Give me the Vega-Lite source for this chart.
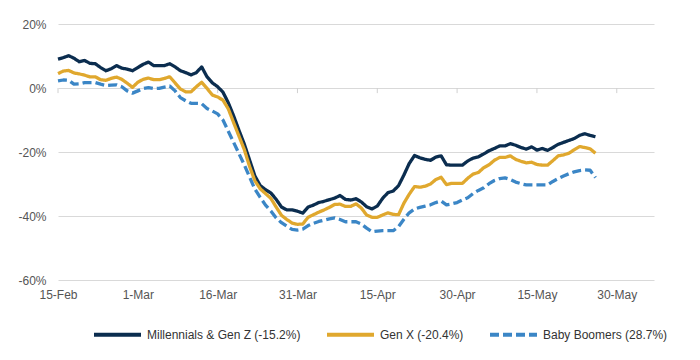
{
  "$schema": "https://vega.github.io/schema/vega-lite/v6.json",
  "width": 596,
  "height": 256,
  "autosize": {"type": "none"},
  "padding": {"left": 58, "top": 24, "right": 46, "bottom": 80},
  "background": "white",
  "config": {
    "view": {"stroke": null},
    "font": "Liberation Sans",
    "axis": {"labelFont": "Liberation Sans", "labelFontSize": 12, "labelColor": "#555555"},
    "legend": {"labelFont": "Liberation Sans"}
  },
  "datasets": {
    "names": [
      {"key": "m", "name": "Millennials & Gen Z (-15.2%)"},
      {"key": "g", "name": "Gen X (-20.4%)"},
      {"key": "b", "name": "Baby Boomers (28.7%)"}
    ],
    "ticks": [
      {"date": "2020-02-15"}, {"date": "2020-03-01"}, {"date": "2020-03-16"}, {"date": "2020-03-31"},
      {"date": "2020-04-15"}, {"date": "2020-04-30"}, {"date": "2020-05-15"}, {"date": "2020-05-30"}
    ],
    "series": [
      {"date": "2020-02-15", "m": 9.0, "g": 4.5, "b": 2.2},
      {"date": "2020-02-16", "m": 9.5, "g": 5.3, "b": 2.5},
      {"date": "2020-02-17", "m": 10.1, "g": 5.5, "b": 2.4},
      {"date": "2020-02-18", "m": 9.3, "g": 4.7, "b": 1.2},
      {"date": "2020-02-19", "m": 8.2, "g": 4.4, "b": 1.3},
      {"date": "2020-02-20", "m": 8.6, "g": 4.0, "b": 1.7},
      {"date": "2020-02-21", "m": 7.7, "g": 3.5, "b": 1.7},
      {"date": "2020-02-22", "m": 7.6, "g": 3.5, "b": 1.7},
      {"date": "2020-02-23", "m": 6.4, "g": 2.6, "b": 1.2},
      {"date": "2020-02-24", "m": 5.4, "g": 2.4, "b": 0.8},
      {"date": "2020-02-25", "m": 6.0, "g": 3.0, "b": 0.9},
      {"date": "2020-02-26", "m": 7.0, "g": 3.4, "b": 1.0},
      {"date": "2020-02-27", "m": 6.2, "g": 2.7, "b": 0.4},
      {"date": "2020-02-28", "m": 5.9, "g": 1.5, "b": -0.9},
      {"date": "2020-02-29", "m": 5.4, "g": 0.2, "b": -1.6},
      {"date": "2020-03-01", "m": 6.4, "g": 1.8, "b": -0.9},
      {"date": "2020-03-02", "m": 7.4, "g": 2.7, "b": -0.2},
      {"date": "2020-03-03", "m": 8.1, "g": 3.1, "b": 0.1},
      {"date": "2020-03-04", "m": 7.0, "g": 2.6, "b": -0.2},
      {"date": "2020-03-05", "m": 7.0, "g": 2.6, "b": -0.1},
      {"date": "2020-03-06", "m": 7.0, "g": 3.0, "b": 0.3},
      {"date": "2020-03-07", "m": 7.6, "g": 3.5, "b": 0.6},
      {"date": "2020-03-08", "m": 6.6, "g": 1.6, "b": -0.9},
      {"date": "2020-03-09", "m": 5.4, "g": -0.3, "b": -3.0},
      {"date": "2020-03-10", "m": 4.8, "g": -1.2, "b": -4.0},
      {"date": "2020-03-11", "m": 4.1, "g": -1.2, "b": -4.8},
      {"date": "2020-03-12", "m": 4.8, "g": 0.4, "b": -4.8},
      {"date": "2020-03-13", "m": 6.6, "g": 1.8, "b": -4.9},
      {"date": "2020-03-14", "m": 3.5, "g": -0.1, "b": -6.4},
      {"date": "2020-03-15", "m": 1.6, "g": -2.2, "b": -7.2},
      {"date": "2020-03-16", "m": 0.4, "g": -2.8, "b": -8.1},
      {"date": "2020-03-17", "m": -1.3, "g": -3.8, "b": -10.0},
      {"date": "2020-03-18", "m": -4.6, "g": -6.5, "b": -13.5},
      {"date": "2020-03-19", "m": -8.7, "g": -10.8, "b": -17.0},
      {"date": "2020-03-20", "m": -13.2, "g": -15.0, "b": -20.5},
      {"date": "2020-03-21", "m": -17.5, "g": -19.2, "b": -24.0},
      {"date": "2020-03-22", "m": -22.5, "g": -24.5, "b": -27.8},
      {"date": "2020-03-23", "m": -27.5, "g": -29.0, "b": -31.6},
      {"date": "2020-03-24", "m": -30.5, "g": -31.5, "b": -34.2},
      {"date": "2020-03-25", "m": -31.8, "g": -33.0, "b": -36.6},
      {"date": "2020-03-26", "m": -32.8, "g": -34.5, "b": -38.4},
      {"date": "2020-03-27", "m": -34.8, "g": -37.2, "b": -40.6},
      {"date": "2020-03-28", "m": -37.2, "g": -39.8, "b": -42.1},
      {"date": "2020-03-29", "m": -38.1, "g": -41.1, "b": -43.2},
      {"date": "2020-03-30", "m": -38.1, "g": -42.2, "b": -44.2},
      {"date": "2020-03-31", "m": -38.5, "g": -42.6, "b": -44.4},
      {"date": "2020-04-01", "m": -39.1, "g": -42.5, "b": -44.1},
      {"date": "2020-04-02", "m": -37.2, "g": -40.4, "b": -43.0},
      {"date": "2020-04-03", "m": -36.6, "g": -39.6, "b": -42.3},
      {"date": "2020-04-04", "m": -35.8, "g": -38.8, "b": -41.7},
      {"date": "2020-04-05", "m": -35.4, "g": -38.1, "b": -41.3},
      {"date": "2020-04-06", "m": -34.9, "g": -37.3, "b": -40.9},
      {"date": "2020-04-07", "m": -34.4, "g": -36.4, "b": -40.6},
      {"date": "2020-04-08", "m": -33.6, "g": -36.3, "b": -41.1},
      {"date": "2020-04-09", "m": -34.8, "g": -37.0, "b": -41.8},
      {"date": "2020-04-10", "m": -35.0, "g": -37.0, "b": -41.8},
      {"date": "2020-04-11", "m": -34.6, "g": -36.2, "b": -41.8},
      {"date": "2020-04-12", "m": -35.6, "g": -37.5, "b": -42.5},
      {"date": "2020-04-13", "m": -37.1, "g": -39.7, "b": -43.8},
      {"date": "2020-04-14", "m": -37.8, "g": -40.4, "b": -44.9},
      {"date": "2020-04-15", "m": -36.9, "g": -40.4, "b": -44.7},
      {"date": "2020-04-16", "m": -34.5, "g": -39.7, "b": -44.6},
      {"date": "2020-04-17", "m": -32.7, "g": -39.0, "b": -44.6},
      {"date": "2020-04-18", "m": -32.2, "g": -39.5, "b": -44.6},
      {"date": "2020-04-19", "m": -30.5, "g": -39.6, "b": -43.3},
      {"date": "2020-04-20", "m": -27.2, "g": -36.0, "b": -41.0},
      {"date": "2020-04-21", "m": -23.6, "g": -33.2, "b": -39.0},
      {"date": "2020-04-22", "m": -21.1, "g": -30.8, "b": -37.8},
      {"date": "2020-04-23", "m": -21.8, "g": -31.0, "b": -37.3},
      {"date": "2020-04-24", "m": -22.3, "g": -30.7, "b": -36.9},
      {"date": "2020-04-25", "m": -22.6, "g": -30.0, "b": -36.5},
      {"date": "2020-04-26", "m": -21.6, "g": -28.6, "b": -35.8},
      {"date": "2020-04-27", "m": -21.2, "g": -27.9, "b": -35.3},
      {"date": "2020-04-28", "m": -24.0, "g": -30.2, "b": -36.5},
      {"date": "2020-04-29", "m": -24.1, "g": -29.8, "b": -36.2},
      {"date": "2020-04-30", "m": -24.1, "g": -29.8, "b": -35.8},
      {"date": "2020-05-01", "m": -24.1, "g": -29.8, "b": -35.0},
      {"date": "2020-05-02", "m": -22.8, "g": -28.2, "b": -34.3},
      {"date": "2020-05-03", "m": -21.9, "g": -26.9, "b": -33.0},
      {"date": "2020-05-04", "m": -21.5, "g": -26.4, "b": -32.0},
      {"date": "2020-05-05", "m": -20.6, "g": -24.9, "b": -31.2},
      {"date": "2020-05-06", "m": -19.6, "g": -24.0, "b": -29.9},
      {"date": "2020-05-07", "m": -18.9, "g": -22.6, "b": -28.9},
      {"date": "2020-05-08", "m": -18.1, "g": -21.7, "b": -28.3},
      {"date": "2020-05-09", "m": -18.1, "g": -21.7, "b": -28.1},
      {"date": "2020-05-10", "m": -17.4, "g": -21.2, "b": -28.6},
      {"date": "2020-05-11", "m": -17.9, "g": -22.3, "b": -29.4},
      {"date": "2020-05-12", "m": -18.6, "g": -22.9, "b": -29.9},
      {"date": "2020-05-13", "m": -19.1, "g": -23.4, "b": -30.3},
      {"date": "2020-05-14", "m": -18.4, "g": -23.2, "b": -30.3},
      {"date": "2020-05-15", "m": -19.4, "g": -23.9, "b": -30.3},
      {"date": "2020-05-16", "m": -18.9, "g": -24.1, "b": -30.3},
      {"date": "2020-05-17", "m": -19.5, "g": -24.1, "b": -30.3},
      {"date": "2020-05-18", "m": -18.6, "g": -22.7, "b": -29.2},
      {"date": "2020-05-19", "m": -17.6, "g": -21.2, "b": -28.3},
      {"date": "2020-05-20", "m": -17.0, "g": -20.9, "b": -27.5},
      {"date": "2020-05-21", "m": -16.4, "g": -20.4, "b": -26.8},
      {"date": "2020-05-22", "m": -15.8, "g": -19.3, "b": -26.2},
      {"date": "2020-05-23", "m": -14.8, "g": -18.3, "b": -25.8},
      {"date": "2020-05-24", "m": -14.3, "g": -18.6, "b": -25.6},
      {"date": "2020-05-25", "m": -14.8, "g": -19.0, "b": -25.7},
      {"date": "2020-05-26", "m": -15.2, "g": -20.4, "b": -28.0}
    ]
  },
  "layer": [
    {
      "data": {"name": "ticks"},
      "mark": {"type": "rule", "color": "#d0d0d0", "strokeWidth": 1},
      "encoding": {
        "x": {"field": "date", "type": "temporal"},
        "y": {"datum": 0},
        "y2": {"datum": -1.6}
      }
    },
    {
      "data": {"name": "series"},
      "transform": [
        {"fold": ["m", "g", "b"], "as": ["key", "value"]},
        {"lookup": "key", "from": {"data": {"name": "names"}, "key": "key", "fields": ["name"]}}
      ],
      "mark": {"type": "line", "strokeWidth": 3.3, "strokeJoin": "round"},
      "encoding": {
        "x": {
          "field": "date", "type": "temporal",
          "scale": {"type": "utc", "domain": [{"year": 2020, "month": 2, "date": 15, "utc": true}, {"year": 2020, "month": 6, "date": 6, "utc": true}]},
          "axis": {
            "orient": "bottom", "title": null, "grid": false, "ticks": false, "domain": false,
            "labelPadding": 9, "format": "%-d-%b", "labelFlush": false,
            "values": [
              {"year": 2020, "month": 2, "date": 15, "utc": true},
              {"year": 2020, "month": 3, "date": 1, "utc": true},
              {"year": 2020, "month": 3, "date": 16, "utc": true},
              {"year": 2020, "month": 3, "date": 31, "utc": true},
              {"year": 2020, "month": 4, "date": 15, "utc": true},
              {"year": 2020, "month": 4, "date": 30, "utc": true},
              {"year": 2020, "month": 5, "date": 15, "utc": true},
              {"year": 2020, "month": 5, "date": 30, "utc": true}
            ]
          }
        },
        "y": {
          "field": "value", "type": "quantitative",
          "scale": {"domain": [-60, 20], "nice": false},
          "axis": {
            "title": null, "values": [-60, -40, -20, 0, 20], "labelExpr": "datum.value + '%'",
            "grid": true, "gridColor": "#d9d9d9", "gridWidth": 1, "domain": false, "ticks": false, "labelPadding": 12
          }
        },
        "color": {
          "field": "name", "type": "nominal",
          "scale": {"domain": ["Millennials & Gen Z (-15.2%)", "Gen X (-20.4%)", "Baby Boomers (28.7%)"], "range": ["#0b2d4f", "#e0a82e", "#3b86c6"]},
          "legend": {
            "title": null, "orient": "none", "legendX": 34, "legendY": 285, "direction": "horizontal",
            "symbolType": "stroke", "symbolSize": 2209, "symbolStrokeWidth": 4, "labelFontSize": 12, "labelColor": "#333333",
            "labelOffset": 4, "columnPadding": 18, "padding": 0, "labelLimit": 300
          }
        },
        "strokeDash": {
          "field": "name", "type": "nominal",
          "scale": {"domain": ["Millennials & Gen Z (-15.2%)", "Gen X (-20.4%)", "Baby Boomers (28.7%)"], "range": [[1, 0], [1, 0], [9, 4]]},
          "legend": {
            "title": null, "orient": "none", "legendX": 34, "legendY": 285, "direction": "horizontal",
            "symbolType": "stroke", "symbolSize": 2209, "symbolStrokeWidth": 4, "labelFontSize": 12, "labelColor": "#333333",
            "labelOffset": 4, "columnPadding": 18, "padding": 0, "labelLimit": 300
          }
        }
      }
    }
  ]
}
